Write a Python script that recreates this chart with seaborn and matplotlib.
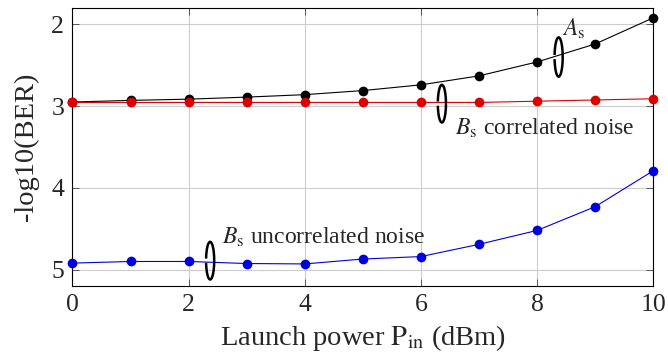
import matplotlib
matplotlib.use("Agg")
import matplotlib.pyplot as plt
from matplotlib.patches import Arc
import seaborn as sns
import pandas as pd

launch_power = [0, 1, 2, 3, 4, 5, 6, 7, 8, 9, 10]
as_vals = [2.95, 2.93, 2.915, 2.89, 2.86, 2.81, 2.74, 2.63, 2.46, 2.24, 1.92]
bs_corr = [2.955, 2.955, 2.955, 2.955, 2.955, 2.955, 2.955, 2.955, 2.94, 2.925, 2.91]
bs_uncorr = [4.92, 4.90, 4.90, 4.925, 4.93, 4.87, 4.84, 4.69, 4.52, 4.23, 3.79]
x_ticks = [0, 2, 4, 6, 8, 10]
y_ticks = [2, 3, 4, 5]

sns.set_theme(style="ticks")
plt.rcParams['font.family'] = ['Liberation Serif', 'DejaVu Serif']
plt.rcParams['mathtext.fontset'] = 'stix'

fig = plt.figure(figsize=(6.68, 3.56), dpi=100)
ax = fig.add_axes([0.1085, 0.1966, 0.8695, 0.781])

df = pd.DataFrame({"P": launch_power, "A": as_vals, "Bc": bs_corr, "Bu": bs_uncorr})
for col, color in [("A", "black"), ("Bc", "#dd0000"), ("Bu", "#0000dd")]:
    sns.lineplot(data=df, x="P", y=col, ax=ax, color=color, marker="o",
                 markersize=7, markeredgewidth=0, linewidth=0.8, clip_on=False, zorder=3)

ax.set_xlim(0, 10)
ax.set_ylim(5.2, 1.8)
ax.set_xticks(x_ticks)
ax.set_yticks(y_ticks)
ax.grid(True, color="#cccccc", linewidth=0.8)
ax.tick_params(direction="in", length=5, width=0.6, color="#444444",
               top=True, right=True, labelsize=18.5, pad=6)
for s in ax.spines.values():
    s.set_linewidth(0.8)
    s.set_color("black")

ax.set_xlabel(r"Launch power $\mathrm{P}_{\mathrm{in}}$ (dBm)", fontsize=20.5, labelpad=5)
ax.set_ylabel("-log10(BER)", fontsize=20.5, labelpad=9)

# ellipse markers
for (cx, cy, h) in [(8.37, 2.40, 0.48), (6.36, 2.97, 0.46), (2.37, 4.89, 0.46)]:
    ax.add_patch(Arc((cx, cy), 0.14, h, theta1=-160, theta2=160,
                     color="black", linewidth=1.8, zorder=4))

ax.text(8.43, 2.05, r"$A_{\mathrm{s}}$", fontsize=17, ha="left", va="center")
ax.text(6.58, 3.27, r"$B_{\mathrm{s}}$ correlated noise", fontsize=17, ha="left", va="center")
ax.text(2.57, 4.61, r"$B_{\mathrm{s}}$ uncorrelated noise", fontsize=17, ha="left", va="center")

fig.savefig("out.png", dpi=100)
